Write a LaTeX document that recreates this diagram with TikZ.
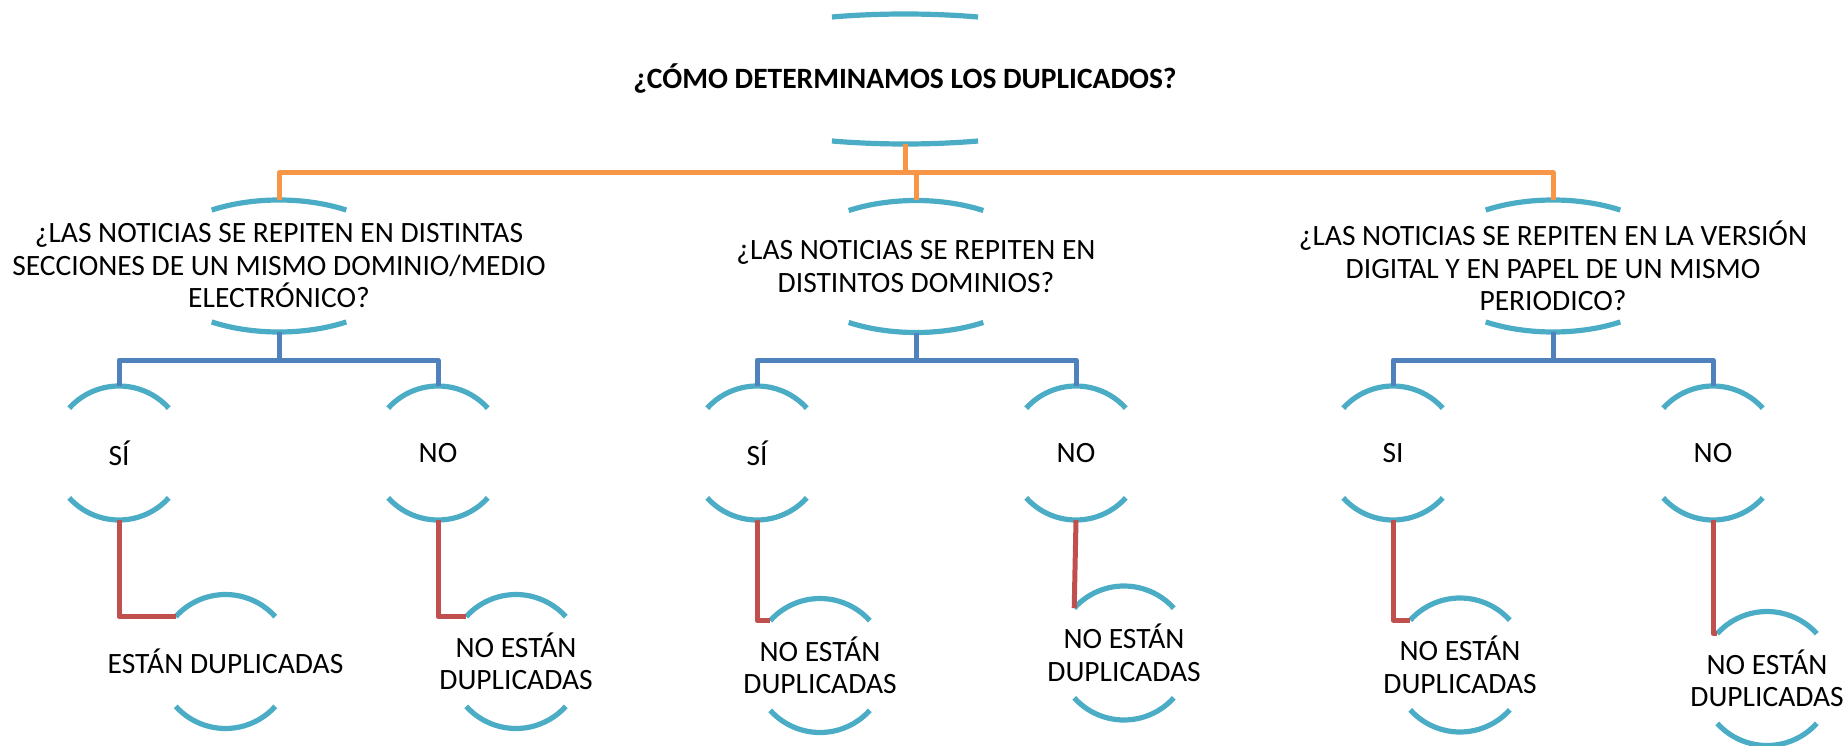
\documentclass[tikz,border=0pt]{standalone}
\usepackage{fontspec}
\setmainfont{Carlito}
\definecolor{arcc}{HTML}{4BACC6}
\definecolor{orc}{HTML}{F79646}
\definecolor{blc}{HTML}{4F81BD}
\definecolor{rdc}{HTML}{C0504D}
\newcommand\smallarcs[1]{%
  \draw[arcl] ([shift={(138:67pt)}]#1.center) arc[start angle=138,end angle=42,radius=67pt];
  \draw[arcl] ([shift={(222:67pt)}]#1.center) arc[start angle=222,end angle=318,radius=67pt];}
\newcommand\midarcs[1]{%
  \draw[arcl] ([shift={(122:127pt and 66pt)}]#1.center) arc[start angle=122,end angle=58,x radius=127pt,y radius=66pt];
  \draw[arcl] ([shift={(238:127pt and 66pt)}]#1.center) arc[start angle=238,end angle=302,x radius=127pt,y radius=66pt];}
\newcommand\toparcs[1]{%
  \draw[arcl] ([shift={(107.5:243pt and 65pt)}]#1.center) arc[start angle=107.5,end angle=72.5,x radius=243pt,y radius=65pt];
  \draw[arcl] ([shift={(252.5:243pt and 65pt)}]#1.center) arc[start angle=252.5,end angle=287.5,x radius=243pt,y radius=65pt];}
\begin{document}
\begin{tikzpicture}[x=1pt,y=1pt,
  lbl/.style={inner sep=0pt, outer sep=0pt, align=center, font=\fontsize{29.5}{32.5}\selectfont},
  small/.style={lbl, minimum height=134pt},
  midbox/.style={lbl, minimum height=132pt},
  arcl/.style={draw=arcc, line width=5.2pt},
  oc/.style={draw=orc, line width=5pt, line join=round},
  bc/.style={draw=blc, line width=5pt, line join=round},
  rc/.style={draw=rdc, line width=5pt, line join=round}]
\useasboundingbox (0,0) rectangle (1847,-746);

% top
\node[lbl, font=\fontsize{29.5}{32.5}\selectfont\bfseries, minimum height=130pt] (top) at (905,-79) {¿CÓMO DETERMINAMOS LOS DUPLICADOS?};

% level 1
\node[midbox] (q1) at (279,-266) {¿LAS NOTICIAS SE REPITEN EN DISTINTAS\\SECCIONES DE UN MISMO DOMINIO/MEDIO\\ELECTRÓNICO?};
\node[midbox] (q2) at (916,-266.5) {¿LAS NOTICIAS SE REPITEN EN\\DISTINTOS DOMINIOS?};
\node[midbox] (q3) at (1553,-266) {¿LAS NOTICIAS SE REPITEN EN LA VERSIÓN\\DIGITAL Y EN PAPEL DE UN MISMO\\PERIODICO?};

% level 2
\node[small] (a1) at (119,-453) {SÍ};
\node[small] (a2) at (438,-453) {NO};
\node[small] (b1) at (757,-453) {SÍ};
\node[small] (b2) at (1076,-453) {NO};
\node[small] (c1) at (1393,-453) {SI};
\node[small] (c2) at (1713,-453) {NO};

% level 3
\node[small] (d1) at (225.5,-661.5) {ESTÁN DUPLICADAS};
\node[small] (d2) at (516,-661.5) {NO ESTÁN\\DUPLICADAS};
\node[small] (e1) at (820,-665.5) {NO ESTÁN\\DUPLICADAS};
\node[small] (e2) at (1124,-653) {NO ESTÁN\\DUPLICADAS};
\node[small] (f1) at (1460,-665) {NO ESTÁN\\DUPLICADAS};
\node[small] (f2) at (1767,-678.5) {NO ESTÁN\\DUPLICADAS};

% arcs
\toparcs{top}
\midarcs{q1}\midarcs{q2}\midarcs{q3}
\smallarcs{a1}\smallarcs{a2}\smallarcs{b1}\smallarcs{b2}\smallarcs{c1}\smallarcs{c2}
\smallarcs{d1}\smallarcs{d2}\smallarcs{e1}\smallarcs{e2}\smallarcs{f1}\smallarcs{f2}

% orange connectors
\coordinate (jo) at (905,-173);
\draw[oc] (top.south) -- (jo);
\draw[oc] (q1.north) |- (jo) -| (q3.north);
\draw[oc] (q2.north) -- (q2.north |- jo);

% blue connectors
\coordinate (yb) at (0,-360);
\coordinate (jb1) at (q1.south |- yb);
\coordinate (jb2) at (q2.south |- yb);
\coordinate (jb3) at (q3.south |- yb);
\draw[bc] (q1.south) -- (jb1);
\draw[bc] (a1.north) |- (jb1) -| (a2.north);
\draw[bc] (q2.south) -- (jb2);
\draw[bc] (b1.north) |- (jb2) -| (b2.north);
\draw[bc] (q3.south) -- (jb3);
\draw[bc] (c1.north) |- (jb3) -| (c2.north);

% red connectors
\draw[rc] (a1.south) |- ([shift={(138:67pt)}]d1.center);
\draw[rc] (a2.south) |- ([shift={(138:67pt)}]d2.center);
\draw[rc] (b1.south) |- ([shift={(138:67pt)}]e1.center);
\draw[rc] (b2.south) -- ([shift={(138:67pt)}]e2.center);
\draw[rc] (c1.south) |- ([shift={(138:67pt)}]f1.center);
\draw[rc] (c2.south) |- ([shift={(138:67pt)}]f2.center);
\end{tikzpicture}
\end{document}
